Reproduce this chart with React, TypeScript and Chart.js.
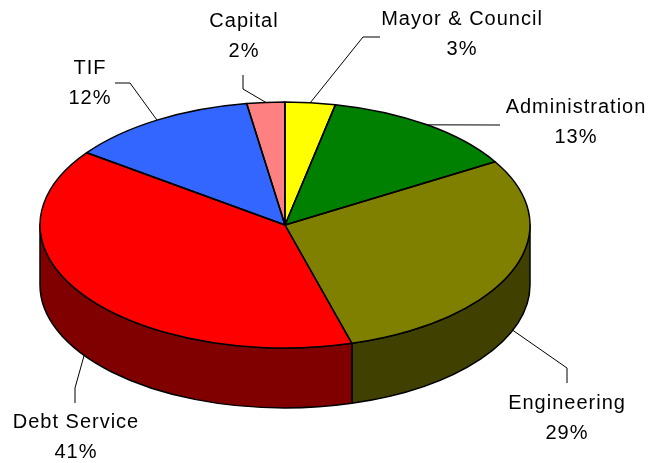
import React, { useEffect, useRef } from 'react';
import { Chart, registerables } from 'chart.js';

Chart.register(...registerables);

// ---- data ----
const categories = ['Mayor & Council', 'Administration', 'Engineering', 'Debt Service', 'TIF', 'Capital'];
// slice sizes as drawn in the picture (share of the full turn, %)
const shares = [3.3, 13.1, 29.2, 39.4, 12.5, 2.5];
const percentLabels = ['3%', '13%', '29%', '41%', '12%', '2%'];

// ---- styles ----
const topColors = ['#FFFF00', '#008000', '#808000', '#FF0000', '#3366FF', '#FF8080'];
const sideColors = ['#808000', '#004000', '#404000', '#800000', '#1A3380', '#804040'];

// ---- layout (projection of the tilted pie and label placement) ----
const PIE = { cx: 285, cy: 225, rx: 245, ry: 123, depth: 60 };
const labelLayout = [
  { elbow: [363, 37], end: [380, 37], text: [462, 19] },
  { elbow: [500, 125], end: [500, 125], text: [576, 107] },
  { elbow: [567, 368], end: [567, 383], text: [567, 403] },
  { elbow: [75, 388], end: [75, 403], text: [76, 422] },
  { elbow: [130, 83], end: [115, 83], text: [90, 68] },
  { elbow: [243, 89], end: [243, 75], text: [244, 21] },
];
const LINE_GAP = 30;
const FONT = '20px "Liberation Sans", Arial, sans-serif';

const P = (a: number, dy = 0) => [PIE.cx + PIE.rx * Math.cos(a), PIE.cy + PIE.ry * Math.sin(a) + dy];

const pie3d = {
  id: 'pie3d',
  beforeDatasetsDraw(chart: any) {
    const ctx = chart.ctx;
    const arcs = chart.getDatasetMeta(0).data;
    // side walls (front half only)
    arcs.forEach((arc: any, i: number) => {
      const { startAngle, endAngle } = arc.getProps(['startAngle', 'endAngle'], true);
      for (const off of [0, 2 * Math.PI, -2 * Math.PI]) {
        const a = Math.max(startAngle, off);
        const b = Math.min(endAngle, off + Math.PI);
        if (b <= a) continue;
        ctx.save();
        ctx.beginPath();
        const p0 = P(a);
        ctx.moveTo(p0[0], p0[1]);
        ctx.ellipse(PIE.cx, PIE.cy, PIE.rx, PIE.ry, 0, a, b, false);
        const p1 = P(b, PIE.depth);
        ctx.lineTo(p1[0], p1[1]);
        ctx.ellipse(PIE.cx, PIE.cy + PIE.depth, PIE.rx, PIE.ry, 0, b, a, true);
        ctx.closePath();
        ctx.fillStyle = sideColors[i];
        ctx.fill();
        ctx.lineWidth = 1.5;
        ctx.strokeStyle = '#000';
        ctx.lineJoin = 'round';
        ctx.stroke();
        ctx.restore();
      }
    });
    // squash the library's circular pie into the tilted ellipse
    const a0 = arcs[0];
    const { x, y, outerRadius } = a0.getProps(['x', 'y', 'outerRadius'], true);
    ctx.save();
    ctx.translate(PIE.cx, PIE.cy);
    ctx.scale(PIE.rx / outerRadius, PIE.ry / outerRadius);
    ctx.translate(-x, -y);
  },
  afterDatasetsDraw(chart: any) {
    const ctx = chart.ctx;
    ctx.restore();
    const arcs = chart.getDatasetMeta(0).data;
    // top outlines
    arcs.forEach((arc: any) => {
      const { startAngle, endAngle } = arc.getProps(['startAngle', 'endAngle'], true);
      ctx.save();
      ctx.beginPath();
      ctx.moveTo(PIE.cx, PIE.cy);
      const p0 = P(startAngle);
      ctx.lineTo(p0[0], p0[1]);
      ctx.ellipse(PIE.cx, PIE.cy, PIE.rx, PIE.ry, 0, startAngle, endAngle, false);
      ctx.closePath();
      ctx.lineWidth = 1.5;
      ctx.lineJoin = 'round';
      ctx.strokeStyle = '#000';
      ctx.stroke();
      ctx.restore();
    });
    // labels with leader lines
    arcs.forEach((arc: any, i: number) => {
      const { startAngle, endAngle } = arc.getProps(['startAngle', 'endAngle'], true);
      const mid = (startAngle + endAngle) / 2;
      const front = Math.sin(mid) > 0;
      const anchor = P(mid, front ? PIE.depth : 0);
      const L = labelLayout[i];
      ctx.save();
      ctx.beginPath();
      ctx.moveTo(anchor[0], anchor[1]);
      ctx.lineTo(L.elbow[0], L.elbow[1]);
      ctx.lineTo(L.end[0], L.end[1]);
      ctx.lineWidth = 1;
      ctx.strokeStyle = '#000';
      ctx.stroke();
      ctx.font = FONT;
      ctx.fillStyle = '#000';
      ctx.textAlign = 'center';
      ctx.textBaseline = 'middle';
      try { (ctx as any).letterSpacing = '1px'; } catch (e) {}
      ctx.fillText(categories[i], L.text[0], L.text[1]);
      ctx.fillText(percentLabels[i], L.text[0], L.text[1] + LINE_GAP);
      ctx.restore();
    });
  },
};

export default function App() {
  const ref = useRef<HTMLCanvasElement>(null);
  useEffect(() => {
    if (!ref.current) return;
    const chart = new Chart(ref.current, {
      type: 'pie',
      data: {
        labels: categories,
        datasets: [
          {
            data: shares,
            backgroundColor: topColors,
            borderWidth: 0,
          },
        ],
      },
      options: {
        responsive: false,
        animation: false,
        events: [],
        plugins: { legend: { display: false }, tooltip: { enabled: false } },
      },
      plugins: [pie3d],
    });
    return () => chart.destroy();
  }, []);
  return (
    <div style={{ position: 'absolute', left: 0, top: 0, width: 665, height: 463, background: '#fff' }}>
      <canvas ref={ref} width={665} height={463} />
    </div>
  );
}
